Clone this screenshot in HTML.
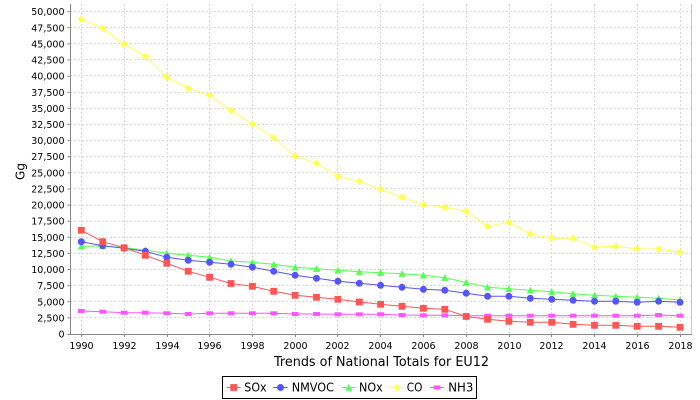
<!DOCTYPE html>
<html><head><meta charset="utf-8"><style>
html,body{margin:0;padding:0;background:#fff;width:700px;height:400px;overflow:hidden}
svg{display:block}
text{font-family:"DejaVu Sans","Liberation Sans",sans-serif;fill:#000}
</style></head><body>
<svg width="700" height="400" viewBox="0 0 700 400" xmlns="http://www.w3.org/2000/svg">
<defs>
<rect id="sq" x="-3.4" y="-3.4" width="6.8" height="6.8" fill="#FF5555"/>
<circle id="ci" cx="0" cy="0" r="3.5" fill="#5555FF"/>
<polygon id="tr" points="0,-3.6 3.6,3.2 -3.6,3.2" fill="#55FF55"/>
<polygon id="di" points="0,-3.8 3.8,0 0,3.8 -3.8,0" fill="#FFFF55"/>
<rect id="hr" x="-3.4" y="-2" width="6.8" height="4" fill="#FF55FF"/>
</defs>
<rect width="700" height="400" fill="#fff"/>
<!-- gridlines -->
<g stroke="#d9d9d9" stroke-width="1" stroke-dasharray="2,2" fill="none">
<path d="M70 317.5H692M70 301.5H692M70 285.5H692M70 269.5H692M70 253.5H692M70 237.5H692M70 221.5H692M70 205.5H692M70 188.5H692M70 172.5H692M70 156.5H692M70 140.5H692M70 124.5H692M70 108.5H692M70 92.5H692M70 75.5H692M70 59.5H692M70 43.5H692M70 27.5H692M70 11.5H692"/>
<path d="M81.5 4V334M124.5 4V334M167.5 4V334M209.5 4V334M252.5 4V334M295.5 4V334M337.5 4V334M380.5 4V334M423.5 4V334M466.5 4V334M509.5 4V334M551.5 4V334M594.5 4V334M637.5 4V334M680.5 4V334"/>
</g>
<!-- right border -->
<path d="M691.5 4V334.5" stroke="#c8c8c8" stroke-width="1"/>
<!-- axes -->
<g stroke="#888" stroke-width="1" fill="none">
<path d="M70.5 4V334.5M70 334.5H692"/>
<path d="M67.5 334.5H70M67.5 317.9H70M67.5 301.8H70M67.5 285.7H70M67.5 269.5H70M67.5 253.4H70M67.5 237.3H70M67.5 221.2H70M67.5 205.1H70M67.5 189H70M67.5 172.9H70M67.5 156.7H70M67.5 140.6H70M67.5 124.5H70M67.5 108.4H70M67.5 92.3H70M67.5 76.2H70M67.5 60H70M67.5 43.9H70M67.5 27.8H70M67.5 11.7H70"/>
<path d="M81.5 334.5V337M124.5 334.5V337M167.5 334.5V337M209.5 334.5V337M252.5 334.5V337M295.5 334.5V337M337.5 334.5V337M380.5 334.5V337M423.5 334.5V337M466.5 334.5V337M509.5 334.5V337M551.5 334.5V337M594.5 334.5V337M637.5 334.5V337M680.5 334.5V337"/>
</g>
<!-- y tick labels -->
<g font-size="9.5" text-anchor="end">
<text x="64.5" y="337.5">0</text>
<text x="64.5" y="321.4">2,500</text>
<text x="64.5" y="305.3">5,000</text>
<text x="64.5" y="289.2">7,500</text>
<text x="64.5" y="273.0">10,000</text>
<text x="64.5" y="256.9">12,500</text>
<text x="64.5" y="240.8">15,000</text>
<text x="64.5" y="224.7">17,500</text>
<text x="64.5" y="208.6">20,000</text>
<text x="64.5" y="192.5">22,500</text>
<text x="64.5" y="176.4">25,000</text>
<text x="64.5" y="160.2">27,500</text>
<text x="64.5" y="144.1">30,000</text>
<text x="64.5" y="128.0">32,500</text>
<text x="64.5" y="111.9">35,000</text>
<text x="64.5" y="95.8">37,500</text>
<text x="64.5" y="79.7">40,000</text>
<text x="64.5" y="63.5">42,500</text>
<text x="64.5" y="47.4">45,000</text>
<text x="64.5" y="31.3">47,500</text>
<text x="64.5" y="15.2">50,000</text>
</g>
<!-- x tick labels -->
<g font-size="9.5" text-anchor="middle">
<text x="81.5" y="349">1990</text>
<text x="124.5" y="349">1992</text>
<text x="167.5" y="349">1994</text>
<text x="209.5" y="349">1996</text>
<text x="252.5" y="349">1998</text>
<text x="295.5" y="349">2000</text>
<text x="337.5" y="349">2002</text>
<text x="380.5" y="349">2004</text>
<text x="423.5" y="349">2006</text>
<text x="466.5" y="349">2008</text>
<text x="509.5" y="349">2010</text>
<text x="551.5" y="349">2012</text>
<text x="594.5" y="349">2014</text>
<text x="637.5" y="349">2016</text>
<text x="680.5" y="349">2018</text>
</g>
<!-- axis titles -->
<text x="274" y="366" font-size="13" textLength="215" lengthAdjust="spacingAndGlyphs">Trends of National Totals for EU12</text>
<text transform="translate(24.5,171.5) rotate(-90)" font-size="12" text-anchor="middle">Gg</text>
<!-- series lines -->
<g fill="none" stroke-width="1" stroke-linejoin="round">
<polyline stroke="#FF55FF" points="81.3,311 102.7,311.7 124.1,312.7 145.4,312.7 166.8,313.3 188.2,314 209.6,313.3 231.0,313.3 252.4,313.3 273.7,313.3 295.1,314 316.5,314 337.9,314.3 359.3,314.3 380.6,314.3 402.0,315 423.4,315.3 444.8,315.3 466.2,315.7 487.6,315.7 508.9,315.7 530.3,315.7 551.7,315.7 573.1,315.7 594.5,315.7 615.8,315.7 637.2,315.7 658.6,315 680.0,315.7"/>
<polyline stroke="#FFFF55" points="81.3,19.3 102.7,28.3 124.1,44.3 145.4,56.3 166.8,77.3 188.2,88.3 209.6,95.3 231.0,110.5 252.4,124.3 273.7,137.7 295.1,156.3 316.5,163.3 337.9,176.3 359.3,181.3 380.6,189.3 402.0,197.3 423.4,204.7 444.8,207.3 466.2,211.3 487.6,226.3 508.9,222.3 530.3,234 551.7,238.3 573.1,238.3 594.5,247.3 615.8,246.3 637.2,249 658.6,249 680.0,252.3"/>
<polyline stroke="#55FF55" points="81.3,246.3 102.7,246 124.1,247.5 145.4,250.3 166.8,253.3 188.2,255.3 209.6,257.3 231.0,261 252.4,262.3 273.7,264.3 295.1,267.3 316.5,268.7 337.9,270.3 359.3,271.7 380.6,272.7 402.0,273.7 423.4,275.3 444.8,277.7 466.2,282.5 487.6,287.3 508.9,288.7 530.3,290.3 551.7,291.7 573.1,293.7 594.5,295.3 615.8,296.3 637.2,297.3 658.6,298.3 680.0,300"/>
<polyline stroke="#5555FF" points="81.3,241.7 102.7,245.7 124.1,248.3 145.4,251.3 166.8,257.3 188.2,260.3 209.6,262.3 231.0,264.3 252.4,267.2 273.7,271.3 295.1,275.3 316.5,278.3 337.9,281.3 359.3,283.3 380.6,285.3 402.0,287.3 423.4,289.3 444.8,290.3 466.2,293.2 487.6,296.3 508.9,296.3 530.3,298.3 551.7,299.3 573.1,300.3 594.5,301.3 615.8,301.3 637.2,302.3 658.6,301.3 680.0,302.3"/>
<polyline stroke="#FF5555" points="81.3,230.3 102.7,241.7 124.1,247.7 145.4,255.3 166.8,263.3 188.2,271.3 209.6,277.3 231.0,283.5 252.4,286.3 273.7,291.3 295.1,295.3 316.5,297.3 337.9,299.3 359.3,302 380.6,304.3 402.0,306.3 423.4,308.3 444.8,309.3 466.2,316.5 487.6,319.3 508.9,321.3 530.3,322.3 551.7,322.3 573.1,324.3 594.5,325.3 615.8,325.3 637.2,326.3 658.6,326.3 680.0,327.3"/>
</g>
<!-- NH3 markers -->
<g>
<use href="#hr" x="81.3" y="311"/><use href="#hr" x="102.7" y="311.7"/><use href="#hr" x="124.1" y="312.7"/><use href="#hr" x="145.4" y="312.7"/><use href="#hr" x="166.8" y="313.3"/><use href="#hr" x="188.2" y="314"/><use href="#hr" x="209.6" y="313.3"/><use href="#hr" x="231.0" y="313.3"/><use href="#hr" x="252.4" y="313.3"/><use href="#hr" x="273.7" y="313.3"/><use href="#hr" x="295.1" y="314"/><use href="#hr" x="316.5" y="314"/><use href="#hr" x="337.9" y="314.3"/><use href="#hr" x="359.3" y="314.3"/><use href="#hr" x="380.6" y="314.3"/><use href="#hr" x="402.0" y="315"/><use href="#hr" x="423.4" y="315.3"/><use href="#hr" x="444.8" y="315.3"/><use href="#hr" x="466.2" y="315.7"/><use href="#hr" x="487.6" y="315.7"/><use href="#hr" x="508.9" y="315.7"/><use href="#hr" x="530.3" y="315.7"/><use href="#hr" x="551.7" y="315.7"/><use href="#hr" x="573.1" y="315.7"/><use href="#hr" x="594.5" y="315.7"/><use href="#hr" x="615.8" y="315.7"/><use href="#hr" x="637.2" y="315.7"/><use href="#hr" x="658.6" y="315"/><use href="#hr" x="680.0" y="315.7"/>
</g>
<!-- CO markers -->
<g>
<use href="#di" x="81.3" y="19.3"/><use href="#di" x="102.7" y="28.3"/><use href="#di" x="124.1" y="44.3"/><use href="#di" x="145.4" y="56.3"/><use href="#di" x="166.8" y="77.3"/><use href="#di" x="188.2" y="88.3"/><use href="#di" x="209.6" y="95.3"/><use href="#di" x="231.0" y="110.5"/><use href="#di" x="252.4" y="124.3"/><use href="#di" x="273.7" y="137.7"/><use href="#di" x="295.1" y="156.3"/><use href="#di" x="316.5" y="163.3"/><use href="#di" x="337.9" y="176.3"/><use href="#di" x="359.3" y="181.3"/><use href="#di" x="380.6" y="189.3"/><use href="#di" x="402.0" y="197.3"/><use href="#di" x="423.4" y="204.7"/><use href="#di" x="444.8" y="207.3"/><use href="#di" x="466.2" y="211.3"/><use href="#di" x="487.6" y="226.3"/><use href="#di" x="508.9" y="222.3"/><use href="#di" x="530.3" y="234"/><use href="#di" x="551.7" y="238.3"/><use href="#di" x="573.1" y="238.3"/><use href="#di" x="594.5" y="247.3"/><use href="#di" x="615.8" y="246.3"/><use href="#di" x="637.2" y="249"/><use href="#di" x="658.6" y="249"/><use href="#di" x="680.0" y="252.3"/>
</g>
<!-- NOx markers -->
<g>
<use href="#tr" x="81.3" y="246.3"/><use href="#tr" x="102.7" y="246"/><use href="#tr" x="124.1" y="247.5"/><use href="#tr" x="145.4" y="250.3"/><use href="#tr" x="166.8" y="253.3"/><use href="#tr" x="188.2" y="255.3"/><use href="#tr" x="209.6" y="257.3"/><use href="#tr" x="231.0" y="261"/><use href="#tr" x="252.4" y="262.3"/><use href="#tr" x="273.7" y="264.3"/><use href="#tr" x="295.1" y="267.3"/><use href="#tr" x="316.5" y="268.7"/><use href="#tr" x="337.9" y="270.3"/><use href="#tr" x="359.3" y="271.7"/><use href="#tr" x="380.6" y="272.7"/><use href="#tr" x="402.0" y="273.7"/><use href="#tr" x="423.4" y="275.3"/><use href="#tr" x="444.8" y="277.7"/><use href="#tr" x="466.2" y="282.5"/><use href="#tr" x="487.6" y="287.3"/><use href="#tr" x="508.9" y="288.7"/><use href="#tr" x="530.3" y="290.3"/><use href="#tr" x="551.7" y="291.7"/><use href="#tr" x="573.1" y="293.7"/><use href="#tr" x="594.5" y="295.3"/><use href="#tr" x="615.8" y="296.3"/><use href="#tr" x="637.2" y="297.3"/><use href="#tr" x="658.6" y="298.3"/><use href="#tr" x="680.0" y="300"/>
</g>
<!-- NMVOC markers -->
<g>
<use href="#ci" x="81.3" y="241.7"/><use href="#ci" x="102.7" y="245.7"/><use href="#ci" x="124.1" y="248.3"/><use href="#ci" x="145.4" y="251.3"/><use href="#ci" x="166.8" y="257.3"/><use href="#ci" x="188.2" y="260.3"/><use href="#ci" x="209.6" y="262.3"/><use href="#ci" x="231.0" y="264.3"/><use href="#ci" x="252.4" y="267.2"/><use href="#ci" x="273.7" y="271.3"/><use href="#ci" x="295.1" y="275.3"/><use href="#ci" x="316.5" y="278.3"/><use href="#ci" x="337.9" y="281.3"/><use href="#ci" x="359.3" y="283.3"/><use href="#ci" x="380.6" y="285.3"/><use href="#ci" x="402.0" y="287.3"/><use href="#ci" x="423.4" y="289.3"/><use href="#ci" x="444.8" y="290.3"/><use href="#ci" x="466.2" y="293.2"/><use href="#ci" x="487.6" y="296.3"/><use href="#ci" x="508.9" y="296.3"/><use href="#ci" x="530.3" y="298.3"/><use href="#ci" x="551.7" y="299.3"/><use href="#ci" x="573.1" y="300.3"/><use href="#ci" x="594.5" y="301.3"/><use href="#ci" x="615.8" y="301.3"/><use href="#ci" x="637.2" y="302.3"/><use href="#ci" x="658.6" y="301.3"/><use href="#ci" x="680.0" y="302.3"/>
</g>
<!-- SOx markers -->
<g>
<use href="#sq" x="81.3" y="230.3"/><use href="#sq" x="102.7" y="241.7"/><use href="#sq" x="124.1" y="247.7"/><use href="#sq" x="145.4" y="255.3"/><use href="#sq" x="166.8" y="263.3"/><use href="#sq" x="188.2" y="271.3"/><use href="#sq" x="209.6" y="277.3"/><use href="#sq" x="231.0" y="283.5"/><use href="#sq" x="252.4" y="286.3"/><use href="#sq" x="273.7" y="291.3"/><use href="#sq" x="295.1" y="295.3"/><use href="#sq" x="316.5" y="297.3"/><use href="#sq" x="337.9" y="299.3"/><use href="#sq" x="359.3" y="302"/><use href="#sq" x="380.6" y="304.3"/><use href="#sq" x="402.0" y="306.3"/><use href="#sq" x="423.4" y="308.3"/><use href="#sq" x="444.8" y="309.3"/><use href="#sq" x="466.2" y="316.5"/><use href="#sq" x="487.6" y="319.3"/><use href="#sq" x="508.9" y="321.3"/><use href="#sq" x="530.3" y="322.3"/><use href="#sq" x="551.7" y="322.3"/><use href="#sq" x="573.1" y="324.3"/><use href="#sq" x="594.5" y="325.3"/><use href="#sq" x="615.8" y="325.3"/><use href="#sq" x="637.2" y="326.3"/><use href="#sq" x="658.6" y="326.3"/><use href="#sq" x="680.0" y="327.3"/>
</g>
<!-- legend -->
<rect x="222.5" y="376.5" width="254" height="22" fill="#fff" stroke="#000" stroke-width="1"/>
<g stroke-width="1">
<path d="M226.7 387.5H240.7" stroke="#FF5555"/>
<path d="M273.3 387.5H287.7" stroke="#5555FF"/>
<path d="M341.7 387.5H355.7" stroke="#55FF55"/>
<path d="M390 387.5H404" stroke="#FFFF55"/>
<path d="M430 387.5H444" stroke="#FF55FF"/>
</g>
<use href="#sq" x="233.7" y="387.5"/>
<use href="#ci" x="280.5" y="387.5"/>
<use href="#tr" x="348.7" y="387.5"/>
<use href="#di" x="397" y="387.5"/>
<use href="#hr" x="437" y="387.5"/>
<g font-size="12">
<text x="244.3" y="391.7" textLength="22.3" lengthAdjust="spacingAndGlyphs">SOx</text>
<text x="291.7" y="391.7" textLength="42.3" lengthAdjust="spacingAndGlyphs">NMVOC</text>
<text x="359" y="391.7" textLength="23.7" lengthAdjust="spacingAndGlyphs">NOx</text>
<text x="406.7" y="391.7" textLength="15.7" lengthAdjust="spacingAndGlyphs">CO</text>
<text x="448.3" y="391.7" textLength="25" lengthAdjust="spacingAndGlyphs">NH3</text>
</g>
</svg>
</body></html>
